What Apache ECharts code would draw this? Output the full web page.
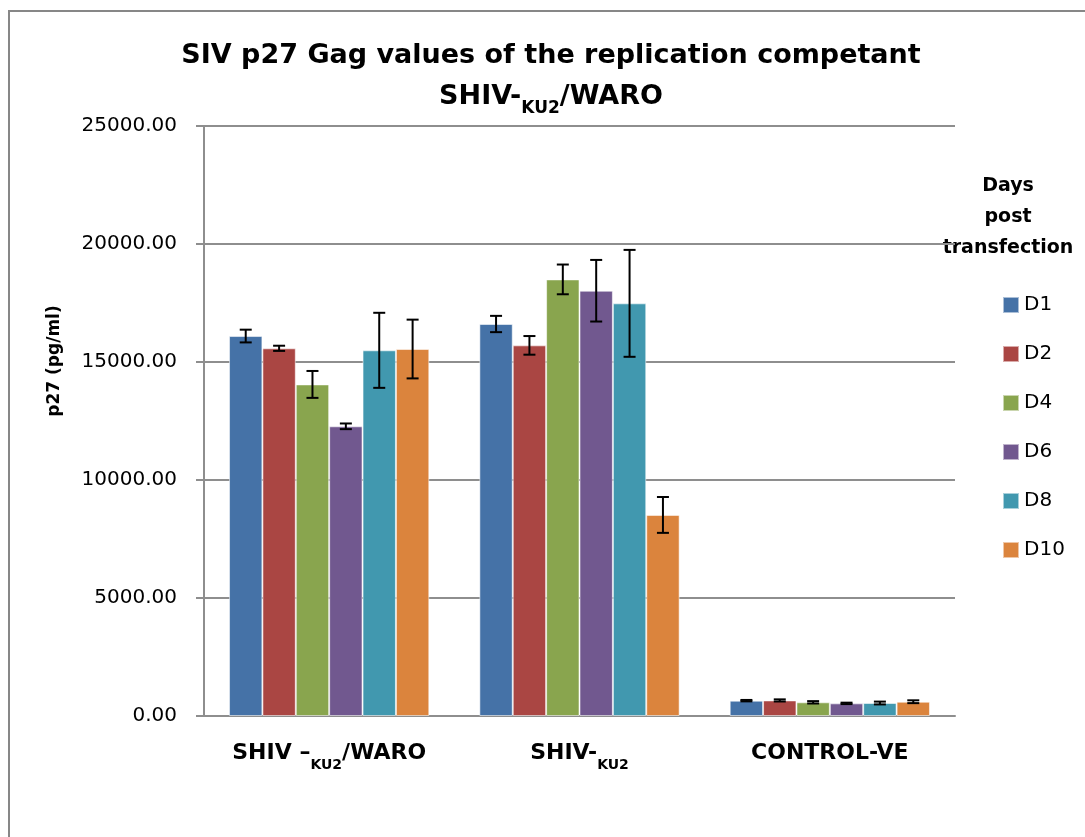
<!DOCTYPE html>
<html>
<head>
<meta charset="utf-8">
<script src="https://cdn.jsdelivr.net/npm/echarts@6/dist/echarts.min.js"></script>
<style>
  html, body { margin: 0; padding: 0; background: #ffffff; }
  #chart { width: 1085px; height: 837px; }
</style>
</head>
<body>
<div id="chart"></div>
<script>
// Constructs tested, one bar per day post transfection
const groups = ['SHIV –KU2/WARO', 'SHIV-KU2', 'CONTROL-VE'];
const days = ['D1', 'D2', 'D4', 'D6', 'D8', 'D10'];

// Mean p27 (pg/ml) per construct, for each day
const d1 = [16100, 16610, 650];
const d2 = [15580, 15705, 660];
const d4 = [14050, 18500, 580];
const d6 = [12275, 18020, 535];
const d8 = [15495, 17485, 550];
const d10 = [15550, 8520, 605];

// Standard deviation per construct, for each day
const d1Err = [270, 345, 30];
const d2Err = [110, 395, 45];
const d4Err = [570, 630, 50];
const d6Err = [120, 1305, 30];
const d8Err = [1590, 2265, 60];
const d10Err = [1245, 760, 60];

// Value axis ticks
const yTicks = [0, 5000, 10000, 15000, 20000, 25000];

const means = [d1, d2, d4, d6, d8, d10];
const errs = [d1Err, d2Err, d4Err, d6Err, d8Err, d10Err];
const colors = ['#4572A7', '#AA4643', '#89A54E', '#71588F', '#4198AF', '#DB843D'];

const FONT = '"DejaVu Sans", sans-serif';
const GRID_COLOR = '#8e8e8e';

// Puts the "KU2" part of a name in subscript, using rich text styles
function subscriptKU2(text, mainStyle, subStyle) {
  return text.split('KU2')
    .map(part => part ? '{' + mainStyle + '|' + part + '}' : '')
    .join('{' + subStyle + '|KU2}');
}

const barSeries = days.map((d, i) => ({
  name: d,
  type: 'bar',
  data: means[i],
  barGap: '0%',
  barCategoryGap: '20%',
  itemStyle: {
    color: colors[i],
    borderColor: 'rgba(255,255,255,0.55)',
    borderWidth: 1
  },
  emphasis: { disabled: true },
  z: 2
}));

// Error bars drawn over each day's bar within the category band
const errorSeries = days.map((d, i) => ({
  name: d + ' sd',
  type: 'custom',
  silent: true,
  z: 5,
  encode: { x: 0, y: [1, 2] },
  data: means[i].map((m, k) => [k, m - errs[i][k], m + errs[i][k]]),
  renderItem: function (params, api) {
    const c = api.value(0);
    const lo = api.coord([c, api.value(1)]);
    const hi = api.coord([c, api.value(2)]);
    const band = api.size([1, 0])[0];
    const bw = band * 0.8 / days.length;
    const x = lo[0] - band * 0.4 + (i + 0.5) * bw;
    const cap = 6;
    const style = { stroke: '#000000', lineWidth: 2 };
    return {
      type: 'group',
      children: [
        { type: 'line', shape: { x1: x, y1: lo[1], x2: x, y2: hi[1] }, style: style },
        { type: 'line', shape: { x1: x - cap, y1: lo[1], x2: x + cap, y2: lo[1] }, style: style },
        { type: 'line', shape: { x1: x - cap, y1: hi[1], x2: x + cap, y2: hi[1] }, style: style }
      ]
    };
  }
}));

const chart = echarts.init(document.getElementById('chart'), null, { renderer: 'canvas' });

chart.setOption({
  animation: false,
  backgroundColor: '#ffffff',
  title: {
    text: '{t|SIV p27 Gag values of the replication competant}\n' +
          subscriptKU2('SHIV-KU2/WARO', 't', 'ts'),
    left: 551,
    top: 35,
    padding: 0,
    textAlign: 'center',
    textStyle: {
      rich: {
        t: { fontFamily: FONT, fontWeight: 'bold', fontSize: 27, lineHeight: 41, color: '#000' },
        ts: { fontFamily: FONT, fontWeight: 'bold', fontSize: 17, color: '#000', verticalAlign: 'bottom' }
      }
    }
  },
  legend: {
    data: days,
    orient: 'vertical',
    left: 1002,
    top: 295,
    padding: 0,
    itemWidth: 16,
    itemHeight: 16,
    itemGap: 29,
    icon: 'rect',
    selectedMode: false,
    textStyle: { fontFamily: FONT, fontSize: 20, color: '#000' }
  },
  grid: { left: 204, right: 130, top: 126, bottom: 121, containLabel: false },
  xAxis: {
    type: 'category',
    data: groups,
    axisLine: { lineStyle: { color: GRID_COLOR, width: 2 } },
    axisTick: { show: false },
    axisLabel: {
      margin: 19,
      interval: 0,
      formatter: v => subscriptKU2(v, 'b', 's'),
      rich: {
        b: { fontFamily: FONT, fontWeight: 'bold', fontSize: 22, lineHeight: 37, color: '#000' },
        s: { fontFamily: FONT, fontWeight: 'bold', fontSize: 14, color: '#000', verticalAlign: 'bottom' }
      }
    }
  },
  yAxis: {
    type: 'value',
    min: yTicks[0],
    max: yTicks[yTicks.length - 1],
    interval: yTicks[1] - yTicks[0],
    axisLine: { show: true, lineStyle: { color: GRID_COLOR, width: 2 } },
    axisTick: { show: true, length: 8, lineStyle: { color: GRID_COLOR, width: 2 } },
    splitLine: { show: true, lineStyle: { color: GRID_COLOR, width: 2 } },
    axisLabel: {
      margin: 27,
      fontFamily: FONT,
      fontSize: 20,
      color: '#000',
      formatter: v => v.toFixed(2)
    }
  },
  graphic: [
    {
      type: 'rect',
      shape: { x: 9, y: 11, width: 1300, height: 1100 },
      style: { fill: 'none', stroke: '#878787', lineWidth: 2 },
      silent: true,
      z: -10
    },
    {
      type: 'text',
      x: 55,
      y: 361,
      rotation: Math.PI / 2,
      style: {
        text: 'p27 (pg/ml)',
        fontFamily: FONT,
        fontWeight: 'bold',
        fontSize: 17,
        fill: '#000',
        align: 'center',
        verticalAlign: 'middle'
      }
    },
    {
      type: 'text',
      x: 1008,
      y: 171,
      style: {
        text: 'Days\npost\ntransfection',
        fontFamily: FONT,
        fontWeight: 'bold',
        fontSize: 19,
        lineHeight: 31,
        fill: '#000',
        align: 'center',
        verticalAlign: 'top'
      }
    }
  ],
  series: barSeries.concat(errorSeries)
});
</script>
</body>
</html>
